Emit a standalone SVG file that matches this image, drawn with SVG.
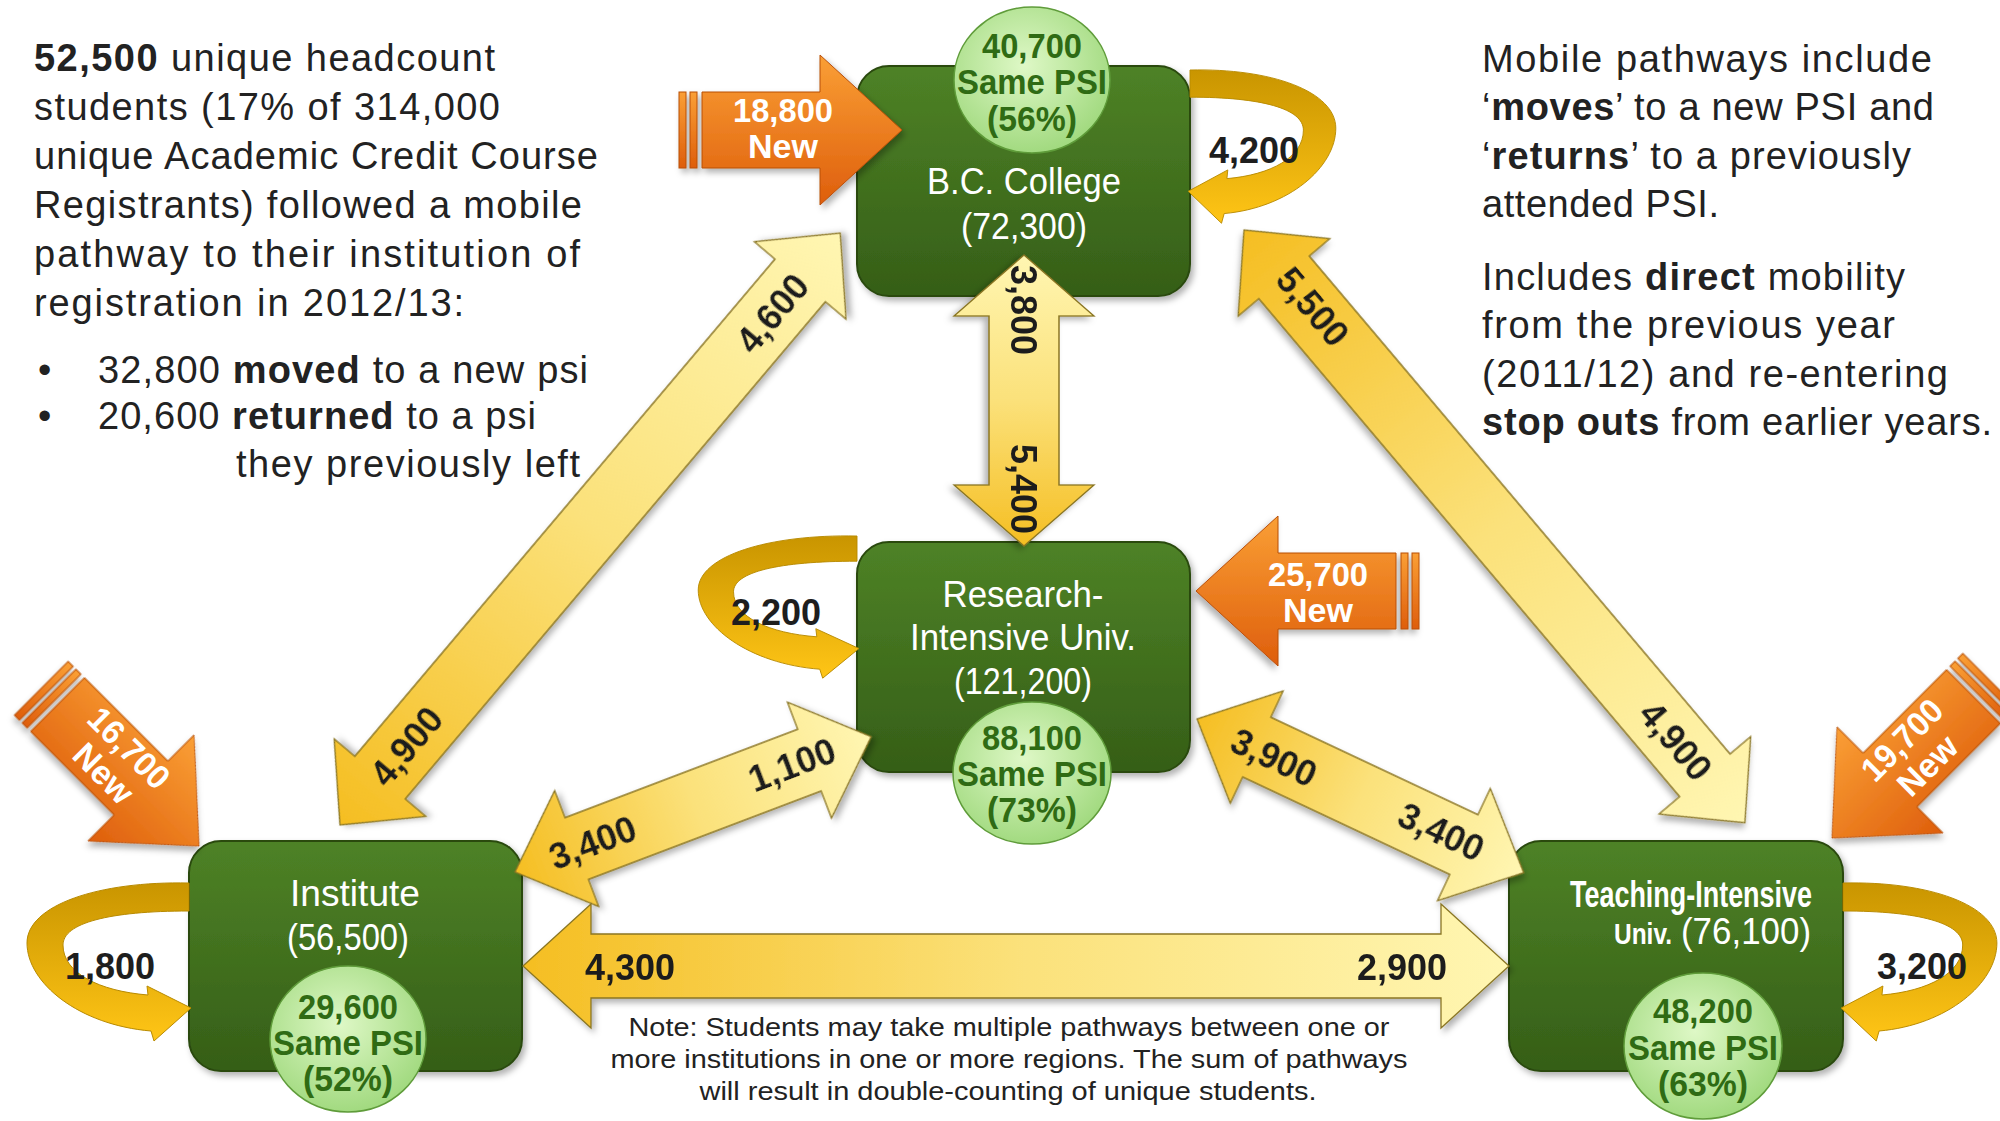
<svg xmlns="http://www.w3.org/2000/svg" width="2000" height="1121" viewBox="0 0 2000 1121">
<defs>
<style>
text{font-family:"Liberation Sans",Arial,sans-serif}
.para{font-size:38px;fill:#222}
.note{font-size:25px;fill:#222;text-anchor:middle}
.title{fill:#fff;font-size:37px;text-anchor:middle}
.ell{fill:#2f6b14;font-weight:bold;font-size:35px;text-anchor:middle}
.num{font-weight:bold;font-size:36px;fill:#1e1e1e;text-anchor:middle}
.new{fill:#fff;font-weight:bold;font-size:34px;text-anchor:middle}
.box{fill:url(#gBox);stroke:#2a4a10;stroke-width:2}
.ellipse{fill:url(#gEll);stroke:#5f9c3a;stroke-width:1.5}
.ya{fill:url(#gYel);stroke:#8a7624;stroke-width:1.3}
.yb{fill:url(#gYelR);stroke:#8a7624;stroke-width:1.3}
.loop{fill:url(#gLoop);stroke:#b88a00;stroke-width:1}
.orange{fill:url(#gOr);stroke:#b84e08;stroke-width:1}
</style>
<linearGradient id="gBox" x1="0" y1="0" x2="0" y2="1"><stop offset="0" stop-color="#4e8226"/><stop offset="1" stop-color="#355e17"/></linearGradient>
<radialGradient id="gEll" cx="0.45" cy="0.4" r="0.6"><stop offset="0" stop-color="#def8c6"/><stop offset="1" stop-color="#a2da80"/></radialGradient>
<linearGradient id="gYel" x1="0" y1="0" x2="1" y2="0"><stop offset="0" stop-color="#f5be22"/><stop offset="0.5" stop-color="#fbe17a"/><stop offset="1" stop-color="#fff6b2"/></linearGradient>
<linearGradient id="gYelR" x1="0" y1="0" x2="1" y2="0"><stop offset="0" stop-color="#fff6b2"/><stop offset="0.5" stop-color="#fbe17a"/><stop offset="1" stop-color="#f5be22"/></linearGradient>
<linearGradient id="gLoop" x1="0" y1="0" x2="0" y2="1"><stop offset="0" stop-color="#c99500"/><stop offset="1" stop-color="#ffc516"/></linearGradient>
<linearGradient id="gOr" x1="0" y1="0" x2="0" y2="1"><stop offset="0" stop-color="#fa9f35"/><stop offset="1" stop-color="#de5e0c"/></linearGradient>
<filter id="sh" x="-10%" y="-10%" width="130%" height="130%"><feDropShadow dx="3" dy="4" stdDeviation="3" flood-color="#000" flood-opacity="0.3"/></filter>
<g id="newArrow">
<polygon class="orange" points="-200,-38 -82,-38 -82,-75 0,0 -82,75 -82,38 -200,38"/>
<rect x="-223" y="-38" width="7" height="76" class="orange"/>
<rect x="-212" y="-38" width="7" height="76" class="orange"/>
</g>
<path id="loopShape" class="loop" d="M0,0 C90,-2 162,22 162,60 C162,100 110,142 38,148 L35,158 L-2,125 L42,103 L41,112 C90,108 126,90 126,62 C126,40 80,28 0,28 Z"/>
</defs>

<rect width="2000" height="1121" fill="#fff"/>

<g id="text-left" class="para">
<text x="34" y="71" textLength="461"><tspan font-weight="bold">52,500</tspan> unique headcount</text>
<text x="34" y="120" textLength="466">students (17% of 314,000</text>
<text x="34" y="169" textLength="564">unique Academic Credit Course</text>
<text x="34" y="218" textLength="548">Registrants) followed a mobile</text>
<text x="34" y="267" textLength="546">pathway to their institution of</text>
<text x="34" y="316" textLength="430">registration in 2012/13:</text>
<text x="38" y="383">•</text>
<text x="98" y="383" textLength="490">32,800 <tspan font-weight="bold">moved</tspan> to a new psi</text>
<text x="38" y="429">•</text>
<text x="98" y="429" textLength="438">20,600 <tspan font-weight="bold">returned</tspan> to a psi</text>
<text x="236" y="477" textLength="344">they previously left</text>
</g>

<g id="text-right" class="para">
<text x="1482" y="72" textLength="450">Mobile pathways include</text>
<text x="1482" y="120" textLength="452">‘<tspan font-weight="bold">moves</tspan>’ to a new PSI and</text>
<text x="1482" y="169" textLength="429">‘<tspan font-weight="bold">returns</tspan>’ to a previously</text>
<text x="1482" y="217" textLength="237">attended PSI.</text>
<text x="1482" y="290" textLength="423">Includes <tspan font-weight="bold">direct</tspan> mobility</text>
<text x="1482" y="338" textLength="413">from the previous year</text>
<text x="1482" y="387" textLength="466">(2011/12) and re-entering</text>
<text x="1482" y="435" textLength="510"><tspan font-weight="bold">stop outs</tspan> from earlier years.</text>
</g>

<g id="note">
<text class="note" x="1009" y="1036" textLength="761" lengthAdjust="spacingAndGlyphs" font-size="27">Note: Students may take multiple pathways between one or</text>
<text class="note" x="1009" y="1068" textLength="797" lengthAdjust="spacingAndGlyphs" font-size="27">more institutions in one or more regions. The sum of pathways</text>
<text class="note" x="1008" y="1100" textLength="617" lengthAdjust="spacingAndGlyphs" font-size="27">will result in double-counting of unique students.</text>
</g>

<g id="node-bc-college">
<rect class="box" x="857" y="66" width="333" height="230" rx="32" filter="url(#sh)"/>
<text class="title" x="1024" y="194" textLength="194" lengthAdjust="spacingAndGlyphs">B.C. College</text>
<text class="title" x="1024" y="239" textLength="126" lengthAdjust="spacingAndGlyphs">(72,300)</text>
<ellipse class="ellipse" cx="1032" cy="80" rx="78" ry="73"/>
<text class="ell" x="1032" y="58" textLength="100" lengthAdjust="spacingAndGlyphs">40,700</text>
<text class="ell" x="1032" y="94" textLength="150" lengthAdjust="spacingAndGlyphs">Same PSI</text>
<text class="ell" x="1032" y="131" textLength="90" lengthAdjust="spacingAndGlyphs">(56%)</text>
</g>

<g id="node-research">
<rect class="box" x="857" y="542" width="333" height="230" rx="32" filter="url(#sh)"/>
<text class="title" x="1023" y="607" textLength="161" lengthAdjust="spacingAndGlyphs">Research-</text>
<text class="title" x="1023" y="650" textLength="226" lengthAdjust="spacingAndGlyphs">Intensive Univ.</text>
<text class="title" x="1023" y="694" textLength="138" lengthAdjust="spacingAndGlyphs">(121,200)</text>
</g>

<g id="node-institute">
<rect class="box" x="189" y="841" width="333" height="230" rx="32" filter="url(#sh)"/>
<text class="title" x="355" y="906" textLength="130" lengthAdjust="spacingAndGlyphs">Institute</text>
<text class="title" x="348" y="950" textLength="122" lengthAdjust="spacingAndGlyphs">(56,500)</text>
</g>

<g id="node-teaching">
<rect class="box" x="1509" y="841" width="334" height="230" rx="32" filter="url(#sh)"/>
<text class="title" x="1691" y="907" font-size="29" font-weight="bold" textLength="242" lengthAdjust="spacingAndGlyphs">Teaching-Intensive</text>
<text x="1614" y="944" fill="#fff" font-size="29" font-weight="bold" textLength="58" lengthAdjust="spacingAndGlyphs">Univ.</text>
<text x="1681" y="944" fill="#fff" font-size="37" textLength="130" lengthAdjust="spacingAndGlyphs">(76,100)</text>
</g>

<g id="connectors">
<!-- Institute <-> B.C. College -->
<g transform="translate(340,825) rotate(-49.8)" filter="url(#sh)">
<polygon class="ya" points="0,0 62,-60 62,-33 713,-33 713,-60 775,0 713,60 713,33 62,33 62,60"/>
<text class="num" x="103" y="13">4,900</text>
<text class="num" x="670" y="13">4,600</text>
</g>
<!-- B.C. College <-> Teaching -->
<g transform="translate(1244,230) rotate(49.8)" filter="url(#sh)">
<polygon class="ya" points="0,0 62,-60 62,-33 714,-33 714,-60 776,0 714,60 714,33 62,33 62,60"/>
<text class="num" x="103" y="10">5,500</text>
<text class="num" x="669" y="13">4,900</text>
</g>
<!-- B.C. College <-> Research -->
<g transform="translate(1024,255) rotate(90)" filter="url(#sh)">
<polygon class="yb" points="0,0 61,-70 61,-35 230,-35 230,-70 291,0 230,70 230,35 61,35 61,70"/>
<text class="num" x="55" y="13">3,800</text>
<text class="num" x="234" y="13">5,400</text>
</g>
<!-- Institute <-> Research -->
<g transform="translate(515,872) rotate(-20.8)" filter="url(#sh)">
<polygon class="ya" points="0,0 66,-62 66,-33 315,-33 315,-62 381,0 315,62 315,33 66,33 66,62"/>
<text class="num" x="83" y="13">3,400</text>
<text class="num" x="297" y="11">1,100</text>
</g>
<!-- Research <-> Teaching -->
<g transform="translate(1197,719) rotate(25.2)" filter="url(#sh)">
<polygon class="ya" points="0,0 66,-62 66,-33 295,-33 295,-62 361,0 295,62 295,33 66,33 66,62"/>
<text class="num" x="86" y="15">3,900</text>
<text class="num" x="269" y="11">3,400</text>
</g>
<!-- Institute <-> Teaching -->
<g transform="translate(523,966)" filter="url(#sh)">
<polygon class="ya" points="0,0 68,-62 68,-32 918,-32 918,-62 986,0 918,62 918,32 68,32 68,62"/>
<text class="num" x="107" y="14" font-size="38">4,300</text>
<text class="num" x="879" y="14" font-size="38">2,900</text>
</g>

<!-- self loops -->
<use href="#loopShape" transform="translate(1190,70) scale(0.9,0.97)"/>
<text class="num" x="1254" y="163" font-size="38">4,200</text>
<use href="#loopShape" transform="translate(857,536) scale(-0.98,0.9)"/>
<text class="num" x="776" y="625" font-size="38">2,200</text>
<use href="#loopShape" transform="translate(189,883) scale(-1,1)"/>
<text class="num" x="110" y="979" font-size="38">1,800</text>
<use href="#loopShape" transform="translate(1843,883) scale(0.95,1)"/>
<text class="num" x="1922" y="979" font-size="38">3,200</text>

<!-- new entrants -->
<use href="#newArrow" transform="translate(902,130)" filter="url(#sh)"/>
<text class="new" x="783" y="122" textLength="100" lengthAdjust="spacingAndGlyphs">18,800</text>
<text class="new" x="783" y="158" textLength="70" lengthAdjust="spacingAndGlyphs">New</text>
<use href="#newArrow" transform="translate(1196,591) scale(-1,1)" filter="url(#sh)"/>
<text class="new" x="1318" y="586" textLength="100" lengthAdjust="spacingAndGlyphs">25,700</text>
<text class="new" x="1318" y="622" textLength="70" lengthAdjust="spacingAndGlyphs">New</text>
<use href="#newArrow" transform="translate(199,846) rotate(45)" filter="url(#sh)"/>
<g transform="translate(115,762) rotate(45)">
<text class="new" x="0" y="-8" textLength="100" lengthAdjust="spacingAndGlyphs">16,700</text>
<text class="new" x="0" y="28" textLength="70" lengthAdjust="spacingAndGlyphs">New</text>
</g>
<use href="#newArrow" transform="translate(1832,838) scale(-1,1) rotate(45)" filter="url(#sh)"/>
<g transform="translate(1916,754) rotate(-45)">
<text class="new" x="0" y="-8" textLength="100" lengthAdjust="spacingAndGlyphs">19,700</text>
<text class="new" x="0" y="28" textLength="70" lengthAdjust="spacingAndGlyphs">New</text>
</g>
</g>

<g id="same-psi-research">
<ellipse class="ellipse" cx="1032" cy="773" rx="79" ry="71"/>
<text class="ell" x="1032" y="750" textLength="100" lengthAdjust="spacingAndGlyphs">88,100</text>
<text class="ell" x="1032" y="786" textLength="150" lengthAdjust="spacingAndGlyphs">Same PSI</text>
<text class="ell" x="1032" y="822" textLength="90" lengthAdjust="spacingAndGlyphs">(73%)</text>
</g>
<g id="same-psi-institute">
<ellipse class="ellipse" cx="348" cy="1039" rx="78" ry="73"/>
<text class="ell" x="348" y="1019" textLength="100" lengthAdjust="spacingAndGlyphs">29,600</text>
<text class="ell" x="348" y="1055" textLength="150" lengthAdjust="spacingAndGlyphs">Same PSI</text>
<text class="ell" x="348" y="1091" textLength="90" lengthAdjust="spacingAndGlyphs">(52%)</text>
</g>
<g id="same-psi-teaching">
<ellipse class="ellipse" cx="1703" cy="1046" rx="79" ry="73"/>
<text class="ell" x="1703" y="1023" textLength="100" lengthAdjust="spacingAndGlyphs">48,200</text>
<text class="ell" x="1703" y="1060" textLength="150" lengthAdjust="spacingAndGlyphs">Same PSI</text>
<text class="ell" x="1703" y="1096" textLength="90" lengthAdjust="spacingAndGlyphs">(63%)</text>
</g>
</svg>
